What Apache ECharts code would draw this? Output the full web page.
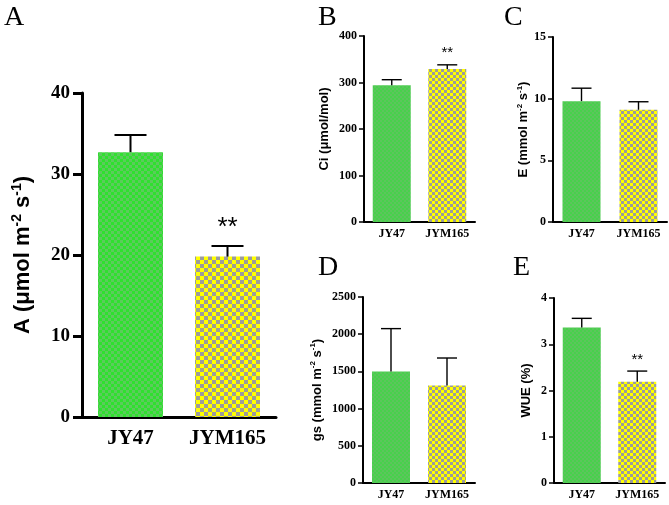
<!DOCTYPE html>
<html>
<head>
<meta charset="utf-8">
<script src="https://cdn.jsdelivr.net/npm/echarts@6/dist/echarts.min.js"></script>
<style>
  html, body { margin: 0; padding: 0; background: #fff; }
  #main { width: 669px; height: 505px; }
</style>
</head>
<body>
<div id="main"></div>
<script>
// data
var categories = ['JY47', 'JYM165'];

var aMean = [32.7, 19.8];
var aErr = [2.1, 1.3];
var aSig = ['', '**'];

var ciMean = [294, 329];
var ciErr = [12, 9];
var ciSig = ['', '**'];

var eMean = [9.8, 9.1];
var eErr = [1.05, 0.65];
var eSig = ['', ''];

var gsMean = [1500, 1310];
var gsErr = [575, 370];
var gsSig = ['', ''];

var wueMean = [3.36, 2.19];
var wueErr = [0.2, 0.23];
var wueSig = ['', '**'];

var myChart = echarts.init(document.getElementById('main'));

// checker pattern for the bars
function checker(c1, c2, s) {
  var cv = document.createElement('canvas');
  cv.width = cv.height = 2 * s;
  var ctx = cv.getContext('2d');
  ctx.fillStyle = c1;
  ctx.fillRect(0, 0, 2 * s, 2 * s);
  ctx.fillStyle = c2;
  ctx.fillRect(0, 0, s, s);
  ctx.fillRect(s, s, s, s);
  return { image: cv, repeat: 'repeat' };
}

var greenBig = checker('#2fe02f', '#5ccc5c', 3);
var yellowBig = checker('#ffff00', '#9c9c9c', 4);
var greenSmall = checker('#48d04c', '#5cc65c', 2);
var yellowSmall = checker('#ffff00', '#9c9c9c', 3);

var serif = 'Liberation Serif';
var sans = 'Liberation Sans';

var grids = [], xAxes = [], yAxes = [], series = [];

function panel(p) {
  var i = grids.length;
  var big = p.big;
  grids.push({ left: p.left, top: p.top, width: p.width, height: p.height, containLabel: false });
  var fs = big ? 22 : 13;
  var sup = big ? 14 : 8;
  var lh = big ? 26 : 16;
  xAxes.push({
    gridIndex: i,
    type: 'category',
    data: categories,
    axisLine: { lineStyle: { color: '#000', width: big ? 3 : 2 } },
    axisTick: { alignWithLabel: true, length: big ? 8 : 5, lineStyle: { color: '#000', width: big ? 3 : 1.5 } },
    axisLabel: { interval: 0, hideOverlap: false, color: '#000', fontFamily: serif, fontWeight: 'bold', fontSize: big ? 21 : 12, margin: big ? 11 : 6 }
  });
  yAxes.push({
    gridIndex: i,
    type: 'value',
    min: 0,
    max: p.max,
    interval: p.interval,
    name: p.name,
    nameLocation: 'middle',
    nameRotate: 90,
    nameGap: p.nameGap,
    nameTextStyle: {
      rich: {
        n: { fontFamily: sans, fontWeight: 'bold', fontSize: fs, color: '#000', lineHeight: lh },
        s: { fontFamily: sans, fontWeight: 'bold', fontSize: sup, color: '#000', lineHeight: lh, verticalAlign: 'top' }
      }
    },
    splitLine: { show: false },
    axisLine: { show: true, lineStyle: { color: '#000', width: big ? 3 : 2 } },
    axisTick: { show: true, length: big ? 9 : 5, lineStyle: { color: '#000', width: big ? 3 : 1.5 } },
    axisLabel: {
      color: '#000', fontFamily: serif, fontWeight: 'bold', fontSize: big ? 19 : 12, margin: big ? 12 : 7,
      formatter: function (v) { return String(v); }
    }
  });
  series.push({
    type: 'bar',
    xAxisIndex: i,
    yAxisIndex: i,
    barWidth: big ? 65 : 38,
    silent: true,
    data: p.mean.map(function (v, k) {
      return { value: v, itemStyle: { color: k === 0 ? (big ? greenBig : greenSmall) : (big ? yellowBig : yellowSmall) } };
    })
  });
  var sig = p.sig;
  series.push({
    type: 'custom',
    xAxisIndex: i,
    yAxisIndex: i,
    silent: true,
    z: 5,
    data: p.mean.map(function (v, k) { return [k, v, p.err[k]]; }),
    renderItem: function (params, api) {
      var k = api.value(0);
      var m = api.value(1), e = api.value(2);
      var b = api.coord([k, m]);
      var t = api.coord([k, m + e]);
      var hw = big ? 16 : 10;
      var lw = big ? 2 : 1.4;
      var kids = [
        { type: 'line', shape: { x1: b[0], y1: b[1], x2: t[0], y2: t[1] }, style: { stroke: '#000', lineWidth: lw } },
        { type: 'line', shape: { x1: t[0] - hw, y1: t[1], x2: t[0] + hw, y2: t[1] }, style: { stroke: '#000', lineWidth: lw } }
      ];
      if (sig[k]) {
        kids.push({
          type: 'text',
          style: {
            text: sig[k],
            x: t[0],
            y: t[1] - (big ? 5 : 4),
            align: 'center',
            verticalAlign: 'bottom',
            fontFamily: sans,
            fontSize: big ? 26 : 15,
            fill: '#000'
          }
        });
      }
      return { type: 'group', children: kids };
    }
  });
}

panel({ big: true, left: 82, top: 93, width: 194, height: 324, max: 40, interval: 10,
  mean: aMean, err: aErr, sig: aSig, nameGap: 46,
  name: '{n|A (μmol m}{s|-2}{n| s}{s|-1}{n|)}' });
panel({ left: 364, top: 36, width: 111, height: 186, max: 400, interval: 100,
  mean: ciMean, err: ciErr, sig: ciSig, nameGap: 32,
  name: '{n|Ci (μmol/mol)}' });
panel({ left: 553, top: 37, width: 114, height: 185, max: 15, interval: 5,
  mean: eMean, err: eErr, sig: eSig, nameGap: 20,
  name: '{n|E (mmol m}{s|-2}{n| s}{s|-1}{n|)}' });
panel({ left: 363, top: 297, width: 112, height: 186, max: 2500, interval: 500,
  mean: gsMean, err: gsErr, sig: gsSig, nameGap: 38,
  name: '{n|gs (mmol m}{s|-2}{n| s}{s|-1}{n|)}' });
panel({ left: 554, top: 298, width: 111, height: 185, max: 4, interval: 1,
  mean: wueMean, err: wueErr, sig: wueSig, nameGap: 20,
  name: '{n|WUE (%)}' });

var letter = { fontFamily: serif, fontWeight: 'normal', fontSize: 28, color: '#000' };

option = {
  backgroundColor: '#fff',
  animation: false,
  title: [
    { text: 'A', left: 4, top: 4, padding: 0, textStyle: letter },
    { text: 'B', left: 318, top: 4, padding: 0, textStyle: letter },
    { text: 'C', left: 504, top: 4, padding: 0, textStyle: letter },
    { text: 'D', left: 318, top: 254, padding: 0, textStyle: letter },
    { text: 'E', left: 513, top: 254, padding: 0, textStyle: letter }
  ],
  grid: grids,
  xAxis: xAxes,
  yAxis: yAxes,
  series: series
};

myChart.setOption(option);
</script>
</body>
</html>
